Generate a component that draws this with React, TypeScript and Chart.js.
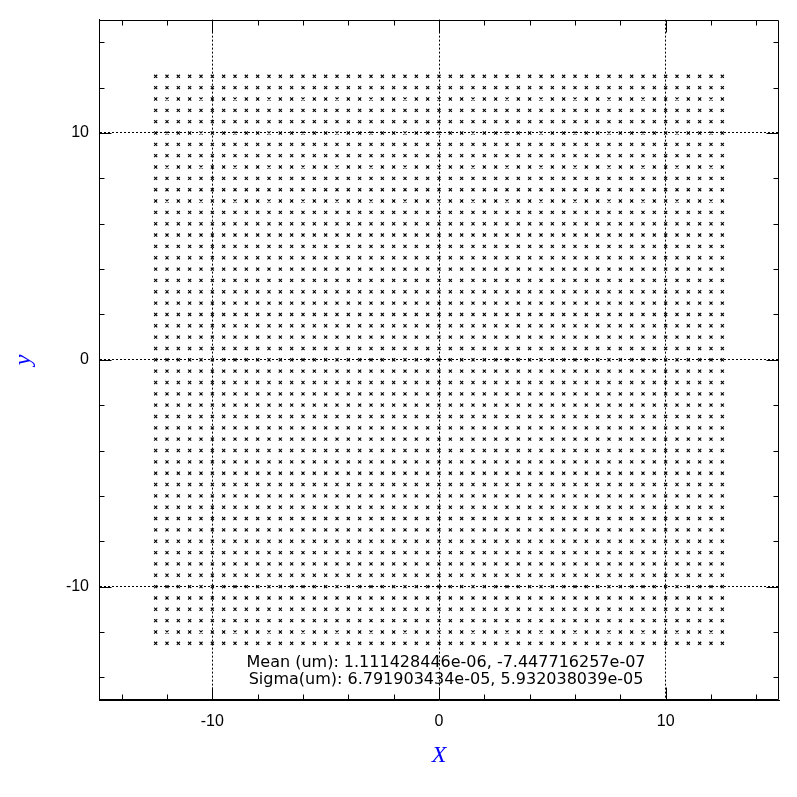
import { useEffect, useRef } from 'react';
import { Chart, registerables } from 'chart.js';

Chart.register(...registerables);

// Grid node coordinates (um)
const xGrid = [
  -12.5, -12, -11.5, -11, -10.5, -10, -9.5, -9, -8.5, -8, -7.5, -7, -6.5, -6, -5.5, -5, -4.5, -4, -3.5, -3, -2.5, -2, -1.5, -1, -0.5,
  0, 0.5, 1, 1.5, 2, 2.5, 3, 3.5, 4, 4.5, 5, 5.5, 6, 6.5, 7, 7.5, 8, 8.5, 9, 9.5, 10, 10.5, 11, 11.5, 12, 12.5,
];
const yGrid = [
  -12.5, -12, -11.5, -11, -10.5, -10, -9.5, -9, -8.5, -8, -7.5, -7, -6.5, -6, -5.5, -5, -4.5, -4, -3.5, -3, -2.5, -2, -1.5, -1, -0.5,
  0, 0.5, 1, 1.5, 2, 2.5, 3, 3.5, 4, 4.5, 5, 5.5, 6, 6.5, 7, 7.5, 8, 8.5, 9, 9.5, 10, 10.5, 11, 11.5, 12, 12.5,
];

const axisMin = -15;
const axisMax = 15;
const majorTicks = [-10, 0, 10];
const minorTicks = [-14, -12, -8, -6, -4, -2, 2, 4, 6, 8, 12, 14];

const xTitle = 'X';
const yTitle = 'y';
const statLines = [
  'Mean (um): 1.111428446e-06, -7.447716257e-07',
  'Sigma(um): 6.791903434e-05, 5.932038039e-05',
];

const framePlugin = {
  id: 'frameTicks',
  afterDatasetsDraw(chart: any) {
    const { ctx, chartArea: a, scales } = chart;
    const xs = scales.x;
    const ys = scales.y;
    const L = Math.round(a.left) + 0.5;
    const R = Math.round(a.right) - 0.5;
    const T = Math.round(a.top) + 0.5;
    const B = Math.round(a.bottom) - 0.5;
    ctx.save();
    ctx.strokeStyle = '#000';
    ctx.lineWidth = 1;
    ctx.setLineDash([]);
    ctx.beginPath();
    ctx.rect(L, T, R - L, B - T);
    const tick = (v: number, len: number) => {
      const px = Math.round(xs.getPixelForValue(v)) + 0.5;
      const py = Math.round(ys.getPixelForValue(v)) + 0.5;
      ctx.moveTo(px, B);
      ctx.lineTo(px, B - len);
      ctx.moveTo(px, T);
      ctx.lineTo(px, T + len);
      ctx.moveTo(L, py);
      ctx.lineTo(L + len, py);
      ctx.moveTo(R, py);
      ctx.lineTo(R - len, py);
    };
    majorTicks.forEach((v) => tick(v, 12));
    minorTicks.forEach((v) => tick(v, 5));
    ctx.stroke();

    ctx.fillStyle = '#000';
    ctx.font = '16px "DejaVu Sans"';
    ctx.textAlign = 'center';
    ctx.textBaseline = 'alphabetic';
    const cx = (a.left + a.right) / 2 + 7;
    ctx.fillText(statLines[0], cx, a.bottom - 33);
    ctx.fillText(statLines[1], cx, a.bottom - 16);
    ctx.restore();
  },
};

export default function App() {
  const ref = useRef<HTMLCanvasElement | null>(null);

  useEffect(() => {
    if (!ref.current) return;
    const points: { x: number; y: number }[] = [];
    for (const y of yGrid) for (const x of xGrid) points.push({ x, y });

    const tickFont = { family: '"Liberation Sans", Arial, sans-serif', size: 16 };
    const titleFont = { family: '"Liberation Serif", serif', size: 24, style: 'italic' as const };

    const chart = new Chart(ref.current, {
      type: 'scatter',
      data: {
        datasets: [
          {
            data: points,
            pointStyle: 'crossRot',
            pointRadius: 2.2,
            pointBorderWidth: 1.1,
            borderColor: '#000',
            backgroundColor: '#000',
          },
        ],
      },
      options: {
        animation: false,
        responsive: false,
        devicePixelRatio: 1,
        layout: { padding: { top: 19, right: 18, left: 0, bottom: 0 } },
        plugins: { legend: { display: false }, tooltip: { enabled: false } },
        scales: {
          x: {
            type: 'linear',
            min: axisMin,
            max: axisMax,
            afterBuildTicks: (s: any) => {
              s.ticks = majorTicks.map((v) => ({ value: v }));
            },
            afterFit: (s: any) => {
              s.height = 97;
            },
            grid: { color: '#000', lineWidth: 1, drawTicks: false },
            border: { display: true, color: '#000', width: 1, dash: [2, 2] },
            ticks: { color: '#000', font: tickFont, padding: 12, maxRotation: 0, callback: (v: any) => String(v) },
            title: { display: true, text: xTitle, color: '#0000ff', font: titleFont, padding: { top: 0, bottom: 27 } },
          },
          y: {
            type: 'linear',
            min: axisMin,
            max: axisMax,
            afterBuildTicks: (s: any) => {
              s.ticks = majorTicks.map((v) => ({ value: v }));
            },
            afterFit: (s: any) => {
              s.width = 99;
            },
            grid: { color: '#000', lineWidth: 1, drawTicks: false },
            border: { display: true, color: '#000', width: 1, dash: [2, 2] },
            ticks: { color: '#000', font: tickFont, padding: 10, callback: (v: any) => String(v) },
            title: { display: true, text: yTitle, color: '#0000ff', font: titleFont, padding: { top: 9, bottom: 0 } },
          },
        },
      },
      plugins: [framePlugin],
    });
    return () => chart.destroy();
  }, []);

  return (
    <div style={{ position: 'absolute', left: 0, top: 0, width: 797, height: 797, background: '#fff' }}>
      <canvas ref={ref} width={797} height={797} />
    </div>
  );
}
